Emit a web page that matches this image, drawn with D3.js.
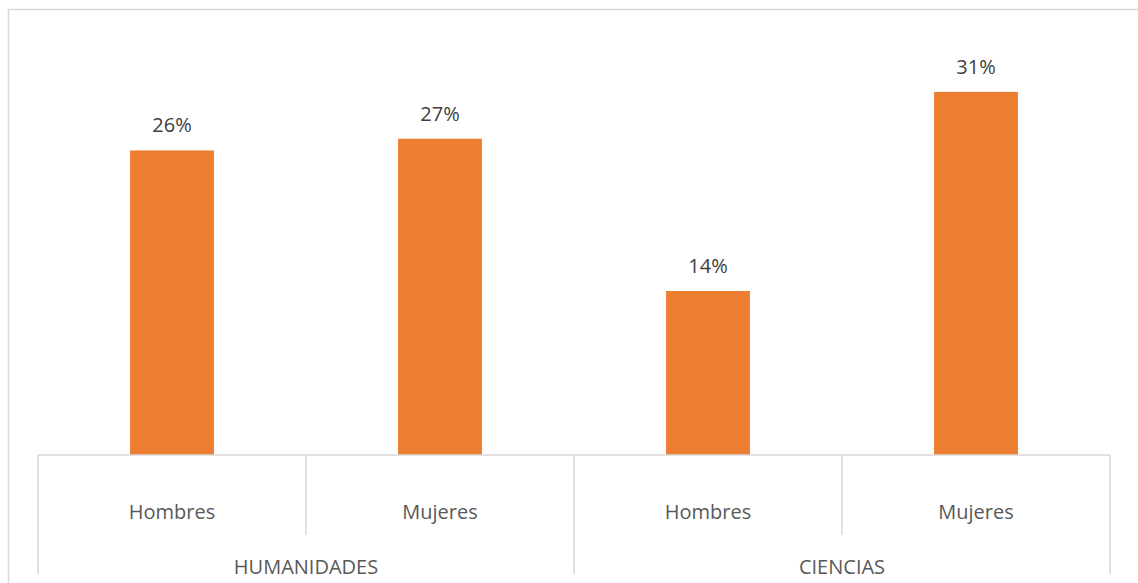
<!DOCTYPE html>
<html>
<head>
<meta charset="utf-8">
<script src="https://cdn.jsdelivr.net/npm/d3@7"></script>
<style>
  html, body { margin: 0; padding: 0; background: #fff; }
  svg { display: block; }
  text { font-family: "Open Sans", "Noto Sans", sans-serif; }
</style>
</head>
<body>
<svg id="chart" width="1138" height="583"></svg>
<script>
// Share of students by field and gender (percent)
const groups = ["HUMANIDADES", "CIENCIAS"];
const genders = ["Hombres", "Mujeres"];
const humanidades = [26, 27];
const ciencias = [14, 31];
const yMax = 35;

const seriesByGroup = { HUMANIDADES: humanidades, CIENCIAS: ciencias };
const rows = groups.flatMap(g => genders.map((s, i) => ({
  group: g, gender: s, key: g + "|" + s, value: seriesByGroup[g][i]
})));

const W = 1138, H = 583;
const plot = { left: 38, right: 1110, top: 45, bottom: 455 };
const row1Bottom = 535, row2Bottom = 574;

const svg = d3.select("#chart");
const gridColor = "#d9d9d9";

// outer chart frame (extends past the right and bottom edges)
svg.append("rect")
  .attr("x", 8.5).attr("y", 9.5)
  .attr("width", W + 10).attr("height", H + 10)
  .attr("fill", "none").attr("stroke", gridColor).attr("stroke-width", 1.5);

const xGroup = d3.scaleBand().domain(groups).range([plot.left, plot.right]).padding(0);
const xCat = d3.scaleBand().domain(rows.map(d => d.key)).range([plot.left, plot.right])
  .paddingInner(0.687).paddingOuter(0.3435);
const xSlot = d3.scaleBand().domain(rows.map(d => d.key)).range([plot.left, plot.right]).padding(0);
const y = d3.scaleLinear().domain([0, yMax]).range([plot.bottom, plot.top]);

// bars
svg.append("g").selectAll("rect").data(rows).join("rect")
  .attr("x", d => xCat(d.key))
  .attr("width", xCat.bandwidth())
  .attr("y", d => y(d.value))
  .attr("height", d => y(0) - y(d.value))
  .attr("fill", "#ed7d31");

// data labels
svg.append("g").selectAll("text").data(rows).join("text")
  .attr("x", d => xCat(d.key) + xCat.bandwidth() / 2)
  .attr("y", d => y(d.value) - 18)
  .attr("text-anchor", "middle")
  .attr("font-size", 20)
  .attr("fill", "#404040")
  .text(d => d.value + "%");

// category axis: baseline and separators
const axis = svg.append("g").attr("stroke", gridColor).attr("stroke-width", 1.5);
axis.append("line")
  .attr("x1", plot.left).attr("x2", plot.right)
  .attr("y1", y(0)).attr("y2", y(0));

const slotEdges = xSlot.domain().map(k => xSlot(k)).concat([plot.right]);
const groupEdges = xGroup.domain().map(g => xGroup(g)).concat([plot.right]);
axis.selectAll(".sep").data(slotEdges).join("line")
  .attr("x1", d => d).attr("x2", d => d)
  .attr("y1", y(0))
  .attr("y2", d => groupEdges.some(e => Math.abs(e - d) < 0.5) ? row2Bottom : row1Bottom);

// level-1 labels
svg.append("g").selectAll("text").data(rows).join("text")
  .attr("x", d => xSlot(d.key) + xSlot.bandwidth() / 2)
  .attr("y", 519)
  .attr("text-anchor", "middle")
  .attr("font-size", 20)
  .attr("fill", "#595959")
  .text(d => d.gender);

// level-2 labels
svg.append("g").selectAll("text").data(groups).join("text")
  .attr("x", d => xGroup(d) + xGroup.bandwidth() / 2)
  .attr("y", 574)
  .attr("text-anchor", "middle")
  .attr("font-size", 20)
  .attr("fill", "#595959")
  .text(d => d);
</script>
</body>
</html>
